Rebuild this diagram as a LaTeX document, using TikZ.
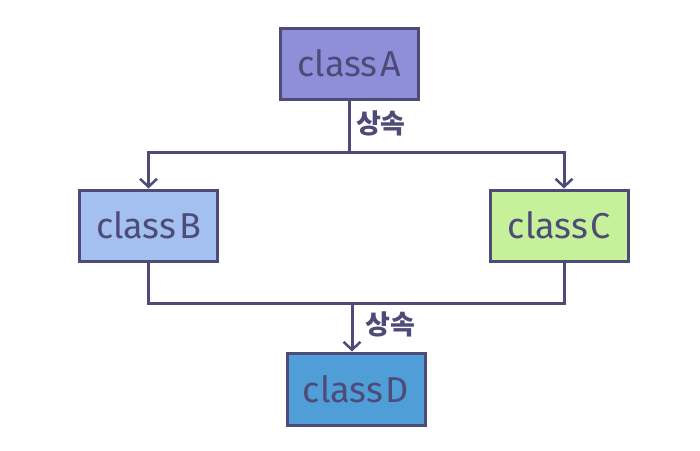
\documentclass[tikz,border=0pt]{standalone}
\usepackage{fontspec}
\setmainfont{Fira Sans}
\newfontfamily\kofont{Noto Sans CJK KR}
\usetikzlibrary{arrows.meta,positioning}
\definecolor{ink}{HTML}{4E4B78}
\definecolor{clsa}{HTML}{8E8FD8}
\definecolor{clsb}{HTML}{A3C0F0}
\definecolor{clsc}{HTML}{C6F19A}
\definecolor{clsd}{HTML}{4F9ED8}
\tikzset{
  every node/.style={text=ink},
  cls/.style={draw=ink,line width=3pt,fill=clsa,minimum width=138pt,minimum height=71pt,
    inner sep=0pt,font=\fontsize{36}{38}\selectfont},
  link/.style={draw=ink,line width=3pt},
  arrow/.style={link,-{Straight Barb[length=8pt,width=17pt,line width=2.5pt]}},
  tag/.style={font=\kofont\bfseries\fontsize{27}{29}\selectfont,inner sep=0pt},
}

\begin{document}
\begin{tikzpicture}[x=1pt,y=-1pt]
\useasboundingbox (0,0) rectangle (700,450);

\node[cls] (A) at (349.5,63.5) {class\kern3pt A};
\node[cls,fill=clsb,below left=88pt and 60pt of A] (B) {class\kern3pt B};
\node[cls,fill=clsc,below right=88pt and 69pt of A] (C) {class\kern3pt C};
\node[cls,fill=clsd,minimum width=138pt,minimum height=72pt,below=251pt of A,xshift=6.5pt] (D) {class\kern3pt D};

\coordinate (split) at (349.5,152);
\coordinate (merge) at (352,303);

\draw[link] (A.south) -- node[tag,right=5pt,pos=0.45]{상속} (split);
\draw[arrow] (split) -| (B.north);
\draw[arrow] (split) -| ([xshift=4.5pt]C.north);
\draw[link] (B.south) |- (merge) -| ([xshift=4.5pt]C.south);
\draw[arrow] (merge) -- node[tag,right=12pt,pos=0.45]{상속} (D.north -| merge);

\end{tikzpicture}
\end{document}
